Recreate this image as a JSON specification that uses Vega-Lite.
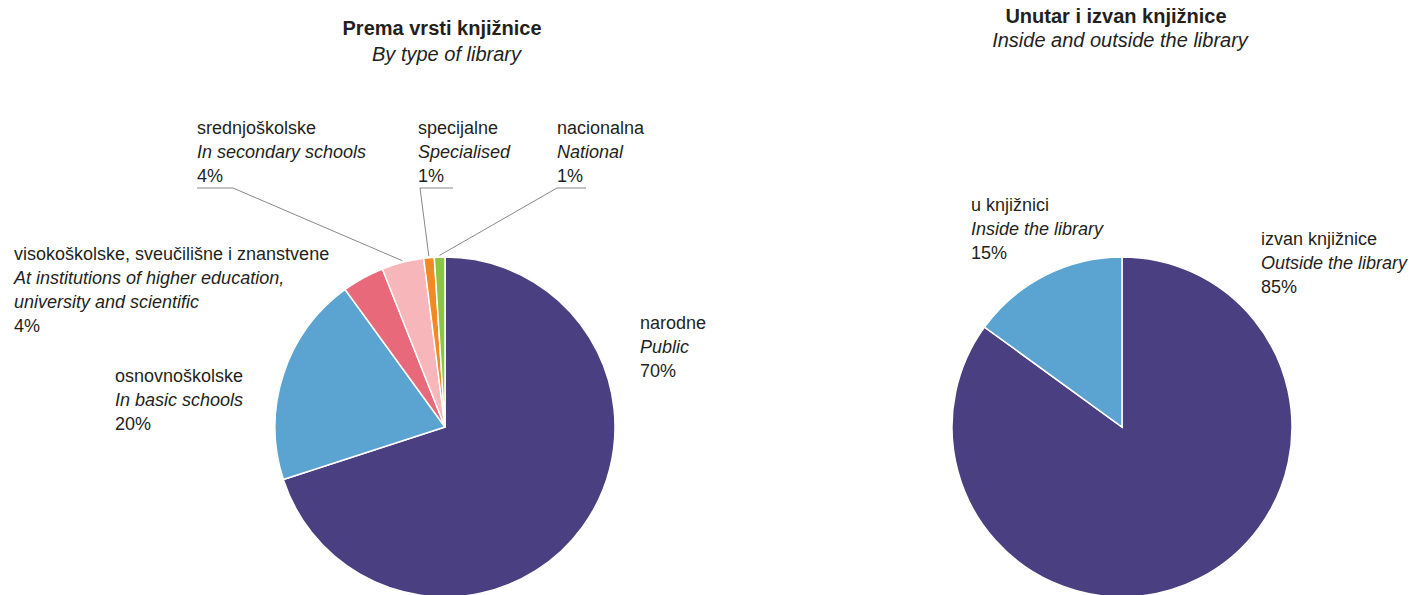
{
  "$schema": "https://vega.github.io/schema/vega-lite/v6.json",
  "width": 1410,
  "height": 595,
  "autosize": {"type": "none"},
  "padding": 0,
  "background": "white",
  "config": {"view": {"stroke": null}, "text": {"font": "Liberation Sans", "fontSize": 18, "color": "#231f20", "align": "left", "baseline": "alphabetic"}},
  "data": {
    "values": [
      {"chart": "A", "hr": "narodne", "en": "Public", "value": 70, "order": 1},
      {"chart": "A", "hr": "osnovnoškolske", "en": "In basic schools", "value": 20, "order": 2},
      {"chart": "A", "hr": "visokoškolske, sveučilišne i znanstvene", "en": "At institutions of higher education,|university and scientific", "value": 4, "order": 3},
      {"chart": "A", "hr": "srednjoškolske", "en": "In secondary schools", "value": 4, "order": 4},
      {"chart": "A", "hr": "specijalne", "en": "Specialised", "value": 1, "order": 5},
      {"chart": "A", "hr": "nacionalna", "en": "National", "value": 1, "order": 6},
      {"chart": "B", "hr": "izvan knjižnice", "en": "Outside the library", "value": 85, "order": 1},
      {"chart": "B", "hr": "u knjižnici", "en": "Inside the library", "value": 15, "order": 2}
    ]
  },
  "transform": [
    {"window": [{"op": "sum", "field": "value", "as": "cum"}], "groupby": ["chart"], "sort": [{"field": "order"}], "frame": [null, 0]},
    {"calculate": "(datum.cum - datum.value / 2) / 100 * 2 * PI", "as": "mid"},
    {"calculate": "sin(datum.mid) * 1.01", "as": "ex"},
    {"calculate": "cos(datum.mid) * 1.01", "as": "ey"},
    {"calculate": "datum.value + '%'", "as": "pct"}
  ],
  "layer": [
    {
      "transform": [{"filter": "datum.chart == 'A'"}],
      "mark": {"type": "arc", "outerRadius": 170, "stroke": "white", "strokeWidth": 1.5},
      "encoding": {
        "theta": {"field": "value", "type": "quantitative", "stack": true},
        "order": {"field": "order", "type": "quantitative"},
        "color": {"field": "hr", "type": "nominal", "legend": null,
          "scale": {"domain": ["narodne", "osnovnoškolske", "visokoškolske, sveučilišne i znanstvene", "srednjoškolske", "specijalne", "nacionalna", "izvan knjižnice", "u knjižnici"],
                    "range": ["#4a3f80", "#5ba4d1", "#e86a7a", "#f7b6b9", "#f08a24", "#8cc540", "#4a3f80", "#5ba4d1"]}},
        "x": {"datum": 0, "type": "quantitative", "scale": {"domain": [-2.61765, 5.67647], "nice": false, "zero": false}, "axis": null},
        "y": {"datum": 0, "type": "quantitative", "scale": {"domain": [-0.98824, 2.51176], "nice": false, "zero": false}, "axis": null}
      }
    },
    {
      "transform": [{"filter": "datum.chart == 'B'"}],
      "mark": {"type": "arc", "outerRadius": 170, "stroke": "white", "strokeWidth": 1.5},
      "encoding": {
        "theta": {"field": "value", "type": "quantitative", "stack": true},
        "order": {"field": "order", "type": "quantitative"},
        "color": {"field": "hr", "type": "nominal", "legend": null},
        "x": {"datum": 3.98235, "type": "quantitative", "scale": {"domain": [-2.61765, 5.67647], "nice": false, "zero": false}, "axis": null},
        "y": {"datum": 0, "type": "quantitative", "scale": {"domain": [-0.98824, 2.51176], "nice": false, "zero": false}, "axis": null}
      }
    },
    {
      "transform": [{"filter": "datum.hr == 'srednjoškolske'"}],
      "mark": {"type": "rule", "color": "#555555", "strokeWidth": 0.7},
      "encoding": {
        "x": {"field": "ex", "type": "quantitative", "scale": {"domain": [-2.61765, 5.67647], "nice": false, "zero": false}, "axis": null},
        "y": {"field": "ey", "type": "quantitative", "scale": {"domain": [-0.98824, 2.51176], "nice": false, "zero": false}, "axis": null},
        "x2": {"datum": -1.24706},
        "y2": {"datum": 1.40588}
      }
    },
    {
      "transform": [{"filter": "datum.hr == 'srednjoškolske'"}],
      "mark": {"type": "rule", "color": "#555555", "strokeWidth": 0.7},
      "encoding": {
        "x": {"datum": -1.45882, "type": "quantitative", "scale": {"domain": [-2.61765, 5.67647], "nice": false, "zero": false}, "axis": null},
        "y": {"datum": 1.40588, "type": "quantitative", "scale": {"domain": [-0.98824, 2.51176], "nice": false, "zero": false}, "axis": null},
        "x2": {"datum": -1.24706}
      }
    },
    {
      "transform": [{"filter": "datum.hr == 'specijalne'"}],
      "mark": {"type": "rule", "color": "#555555", "strokeWidth": 0.7},
      "encoding": {
        "x": {"field": "ex", "type": "quantitative", "scale": {"domain": [-2.61765, 5.67647], "nice": false, "zero": false}, "axis": null},
        "y": {"field": "ey", "type": "quantitative", "scale": {"domain": [-0.98824, 2.51176], "nice": false, "zero": false}, "axis": null},
        "x2": {"datum": -0.14706},
        "y2": {"datum": 1.40588}
      }
    },
    {
      "transform": [{"filter": "datum.hr == 'specijalne'"}],
      "mark": {"type": "rule", "color": "#555555", "strokeWidth": 0.7},
      "encoding": {
        "x": {"datum": -0.14706, "type": "quantitative", "scale": {"domain": [-2.61765, 5.67647], "nice": false, "zero": false}, "axis": null},
        "y": {"datum": 1.40588, "type": "quantitative", "scale": {"domain": [-0.98824, 2.51176], "nice": false, "zero": false}, "axis": null},
        "x2": {"datum": 0.04706}
      }
    },
    {
      "transform": [{"filter": "datum.hr == 'nacionalna'"}],
      "mark": {"type": "rule", "color": "#555555", "strokeWidth": 0.7},
      "encoding": {
        "x": {"field": "ex", "type": "quantitative", "scale": {"domain": [-2.61765, 5.67647], "nice": false, "zero": false}, "axis": null},
        "y": {"field": "ey", "type": "quantitative", "scale": {"domain": [-0.98824, 2.51176], "nice": false, "zero": false}, "axis": null},
        "x2": {"datum": 0.65882},
        "y2": {"datum": 1.40588}
      }
    },
    {
      "transform": [{"filter": "datum.hr == 'nacionalna'"}],
      "mark": {"type": "rule", "color": "#555555", "strokeWidth": 0.7},
      "encoding": {
        "x": {"datum": 0.65882, "type": "quantitative", "scale": {"domain": [-2.61765, 5.67647], "nice": false, "zero": false}, "axis": null},
        "y": {"datum": 1.40588, "type": "quantitative", "scale": {"domain": [-0.98824, 2.51176], "nice": false, "zero": false}, "axis": null},
        "x2": {"datum": 0.82941}
      }
    },
    {
      "transform": [{"filter": "datum.hr == 'narodne'"}],
      "encoding": {
        "x": {"datum": 1.14706, "type": "quantitative", "scale": {"domain": [-2.61765, 5.67647], "nice": false, "zero": false}, "axis": null},
        "y": {"datum": 0.57647, "type": "quantitative", "scale": {"domain": [-0.98824, 2.51176], "nice": false, "zero": false}, "axis": null}
      },
      "layer": [
        {"mark": {"type": "text"}, "encoding": {"text": {"field": "hr"}}},
        {"mark": {"type": "text", "fontStyle": "italic", "dy": 24, "lineHeight": 24, "lineBreak": "|"}, "encoding": {"text": {"field": "en"}}},
        {"mark": {"type": "text", "dy": 48}, "encoding": {"text": {"field": "pct"}}}
      ]
    },
    {
      "transform": [{"filter": "datum.hr == 'osnovnoškolske'"}],
      "encoding": {
        "x": {"datum": -1.94118, "type": "quantitative", "scale": {"domain": [-2.61765, 5.67647], "nice": false, "zero": false}, "axis": null},
        "y": {"datum": 0.26471, "type": "quantitative", "scale": {"domain": [-0.98824, 2.51176], "nice": false, "zero": false}, "axis": null}
      },
      "layer": [
        {"mark": {"type": "text"}, "encoding": {"text": {"field": "hr"}}},
        {"mark": {"type": "text", "fontStyle": "italic", "dy": 24, "lineHeight": 24, "lineBreak": "|"}, "encoding": {"text": {"field": "en"}}},
        {"mark": {"type": "text", "dy": 48}, "encoding": {"text": {"field": "pct"}}}
      ]
    },
    {
      "transform": [{"filter": "datum.order == 3 && datum.chart == 'A'"}],
      "encoding": {
        "x": {"datum": -2.53529, "type": "quantitative", "scale": {"domain": [-2.61765, 5.67647], "nice": false, "zero": false}, "axis": null},
        "y": {"datum": 0.98235, "type": "quantitative", "scale": {"domain": [-0.98824, 2.51176], "nice": false, "zero": false}, "axis": null}
      },
      "layer": [
        {"mark": {"type": "text"}, "encoding": {"text": {"field": "hr"}}},
        {"mark": {"type": "text", "fontStyle": "italic", "dy": 24, "lineHeight": 24, "lineBreak": "|"}, "encoding": {"text": {"field": "en"}}},
        {"mark": {"type": "text", "dy": 72}, "encoding": {"text": {"field": "pct"}}}
      ]
    },
    {
      "transform": [{"filter": "datum.hr == 'srednjoškolske'"}],
      "encoding": {
        "x": {"datum": -1.45882, "type": "quantitative", "scale": {"domain": [-2.61765, 5.67647], "nice": false, "zero": false}, "axis": null},
        "y": {"datum": 1.72353, "type": "quantitative", "scale": {"domain": [-0.98824, 2.51176], "nice": false, "zero": false}, "axis": null}
      },
      "layer": [
        {"mark": {"type": "text"}, "encoding": {"text": {"field": "hr"}}},
        {"mark": {"type": "text", "fontStyle": "italic", "dy": 24, "lineHeight": 24, "lineBreak": "|"}, "encoding": {"text": {"field": "en"}}},
        {"mark": {"type": "text", "dy": 48}, "encoding": {"text": {"field": "pct"}}}
      ]
    },
    {
      "transform": [{"filter": "datum.hr == 'specijalne'"}],
      "encoding": {
        "x": {"datum": -0.15882, "type": "quantitative", "scale": {"domain": [-2.61765, 5.67647], "nice": false, "zero": false}, "axis": null},
        "y": {"datum": 1.72353, "type": "quantitative", "scale": {"domain": [-0.98824, 2.51176], "nice": false, "zero": false}, "axis": null}
      },
      "layer": [
        {"mark": {"type": "text"}, "encoding": {"text": {"field": "hr"}}},
        {"mark": {"type": "text", "fontStyle": "italic", "dy": 24, "lineHeight": 24, "lineBreak": "|"}, "encoding": {"text": {"field": "en"}}},
        {"mark": {"type": "text", "dy": 48}, "encoding": {"text": {"field": "pct"}}}
      ]
    },
    {
      "transform": [{"filter": "datum.hr == 'nacionalna'"}],
      "encoding": {
        "x": {"datum": 0.65882, "type": "quantitative", "scale": {"domain": [-2.61765, 5.67647], "nice": false, "zero": false}, "axis": null},
        "y": {"datum": 1.72353, "type": "quantitative", "scale": {"domain": [-0.98824, 2.51176], "nice": false, "zero": false}, "axis": null}
      },
      "layer": [
        {"mark": {"type": "text"}, "encoding": {"text": {"field": "hr"}}},
        {"mark": {"type": "text", "fontStyle": "italic", "dy": 24, "lineHeight": 24, "lineBreak": "|"}, "encoding": {"text": {"field": "en"}}},
        {"mark": {"type": "text", "dy": 48}, "encoding": {"text": {"field": "pct"}}}
      ]
    },
    {
      "transform": [{"filter": "datum.hr == 'u knjižnici'"}],
      "encoding": {
        "x": {"datum": 3.09412, "type": "quantitative", "scale": {"domain": [-2.61765, 5.67647], "nice": false, "zero": false}, "axis": null},
        "y": {"datum": 1.27059, "type": "quantitative", "scale": {"domain": [-0.98824, 2.51176], "nice": false, "zero": false}, "axis": null}
      },
      "layer": [
        {"mark": {"type": "text"}, "encoding": {"text": {"field": "hr"}}},
        {"mark": {"type": "text", "fontStyle": "italic", "dy": 24, "lineHeight": 24, "lineBreak": "|"}, "encoding": {"text": {"field": "en"}}},
        {"mark": {"type": "text", "dy": 48}, "encoding": {"text": {"field": "pct"}}}
      ]
    },
    {
      "transform": [{"filter": "datum.hr == 'izvan knjižnice'"}],
      "encoding": {
        "x": {"datum": 4.8, "type": "quantitative", "scale": {"domain": [-2.61765, 5.67647], "nice": false, "zero": false}, "axis": null},
        "y": {"datum": 1.07059, "type": "quantitative", "scale": {"domain": [-0.98824, 2.51176], "nice": false, "zero": false}, "axis": null}
      },
      "layer": [
        {"mark": {"type": "text"}, "encoding": {"text": {"field": "hr"}}},
        {"mark": {"type": "text", "fontStyle": "italic", "dy": 24, "lineHeight": 24, "lineBreak": "|"}, "encoding": {"text": {"field": "en"}}},
        {"mark": {"type": "text", "dy": 48}, "encoding": {"text": {"field": "pct"}}}
      ]
    },
    {
      "transform": [{"filter": "datum.hr == 'narodne'"}],
      "mark": {"type": "text", "align": "center", "fontSize": 20, "fontWeight": "bold", "text": "Prema vrsti knjižnice"},
      "encoding": {
        "x": {"datum": -0.0176, "type": "quantitative", "scale": {"domain": [-2.61765, 5.67647], "nice": false, "zero": false}, "axis": null},
        "y": {"datum": 2.30588, "type": "quantitative", "scale": {"domain": [-0.98824, 2.51176], "nice": false, "zero": false}, "axis": null}
      }
    },
    {
      "transform": [{"filter": "datum.hr == 'narodne'"}],
      "mark": {"type": "text", "align": "center", "fontSize": 20, "fontStyle": "italic", "text": "By type of library"},
      "encoding": {
        "x": {"datum": 0.00882, "type": "quantitative", "scale": {"domain": [-2.61765, 5.67647], "nice": false, "zero": false}, "axis": null},
        "y": {"datum": 2.15294, "type": "quantitative", "scale": {"domain": [-0.98824, 2.51176], "nice": false, "zero": false}, "axis": null}
      }
    },
    {
      "transform": [{"filter": "datum.hr == 'narodne'"}],
      "mark": {"type": "text", "align": "center", "fontSize": 20, "fontWeight": "bold", "text": "Unutar i izvan knjižnice"},
      "encoding": {
        "x": {"datum": 3.94706, "type": "quantitative", "scale": {"domain": [-2.61765, 5.67647], "nice": false, "zero": false}, "axis": null},
        "y": {"datum": 2.37647, "type": "quantitative", "scale": {"domain": [-0.98824, 2.51176], "nice": false, "zero": false}, "axis": null}
      }
    },
    {
      "transform": [{"filter": "datum.hr == 'narodne'"}],
      "mark": {"type": "text", "align": "center", "fontSize": 20, "fontStyle": "italic", "text": "Inside and outside the library"},
      "encoding": {
        "x": {"datum": 3.97059, "type": "quantitative", "scale": {"domain": [-2.61765, 5.67647], "nice": false, "zero": false}, "axis": null},
        "y": {"datum": 2.23529, "type": "quantitative", "scale": {"domain": [-0.98824, 2.51176], "nice": false, "zero": false}, "axis": null}
      }
    }
  ]
}
